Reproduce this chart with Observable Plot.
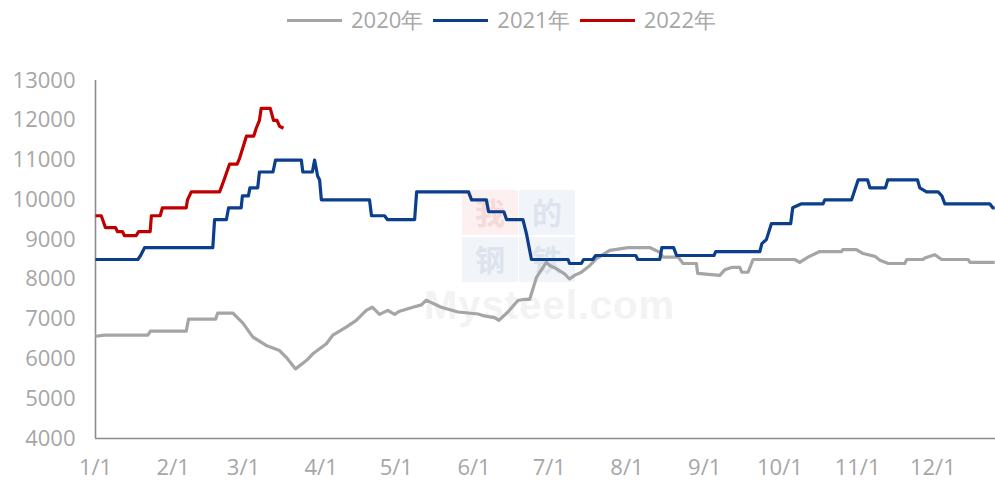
<!DOCTYPE html>
<html>
<head>
<meta charset="utf-8">
<script src="https://cdn.jsdelivr.net/npm/d3@7"></script>
<script src="https://cdn.jsdelivr.net/npm/@observablehq/plot@0.6"></script>
<style>
  html, body { margin: 0; padding: 0; background: #fff; }
  #wrap { position: relative; width: 995px; height: 489px; overflow: hidden; font-family: "Open Sans", "Liberation Sans", sans-serif; }
  #legend { position: relative; height: 40px; display: flex; align-items: center; padding-left: 287px; color: #A6A6A6; font-size: 22px; z-index: 2; }
  .item { display: flex; align-items: center; margin-right: 10px; }
  .sw { width: 55px; height: 3px; margin-right: 9px; }
  #chart { position: relative; z-index: 2; }
  #wm { position: absolute; left: 0; top: 0; width: 995px; height: 489px; z-index: 1; }
  .box { position: absolute; width: 56px; height: 45px; overflow: hidden; }
  .box span { position: absolute; left: 13px; top: 0px; font-family: "Noto Sans CJK SC", sans-serif; font-size: 30px; line-height: 43px; font-weight: bold; }
  #ms { position: absolute; left: 424px; top: 282px; font-family: "Liberation Sans", Arial, sans-serif; font-weight: bold; font-size: 40px; line-height: 46px; color: #F3F3F3; letter-spacing: 1px; }
</style>
</head>
<body>
<div id="wrap">
  <div id="wm">
    <div class="box" style="left:462px;top:190px;background:#FDF0F0;"><span style="color:#F6DADA;">我</span></div>
    <div class="box" style="left:519px;top:190px;background:#F1F4F9;"><span style="color:#DEE4EE;">的</span></div>
    <div class="box" style="left:462px;top:237px;background:#F1F4F9;"><span style="color:#DEE4EE;">钢</span></div>
    <div class="box" style="left:519px;top:237px;background:#F1F4F9;"><span style="color:#DEE4EE;">铁</span></div>
    <div id="ms">Mysteel.com</div>
  </div>
  <div id="legend"></div>
  <div id="chart"></div>
</div>
<script>
// ---- data (day of year, 0 = Jan 1) ----
const years = ["2020年", "2021年", "2022年"];
const colors = ["#A5A5A5", "#0B3E8C", "#C00000"];

const days2020 = [0, 3.6, 20.9, 21.9, 36.2, 37.1, 47.9, 48.7, 54.8, 58.8, 62.8, 68.1, 73.4, 76.1, 79.8, 84.1, 86.7, 92.1, 94.7, 100.0, 104.0, 108.0, 110.4, 113.3, 116.6, 119.3, 121.3, 126.6, 130.0, 131.9, 137.9, 144.6, 152.6, 154.5, 159.2, 160.9, 164.5, 168.5, 171.2, 173.2, 175.9, 179.8, 181.2, 183.8, 187.1, 189.1, 191.1, 193.8, 197.2, 199.8, 205.1, 212.4, 221.1, 225.1, 226.4, 232.4, 234.4, 239.7, 240.2, 249.0, 251.0, 253.7, 257.0, 257.8, 260.3, 262.3, 278.9, 280.9, 284.2, 288.9, 297.6, 298.1, 303.5, 306.2, 310.9, 312.9, 316.2, 322.8, 323.6, 330.1, 330.8, 334.8, 337.5, 348.1, 348.8, 358.7];
const vals2020 = [6570, 6600, 6600, 6700, 6700, 7000, 7000, 7150, 7150, 6900, 6550, 6340, 6210, 6040, 5750, 5960, 6130, 6380, 6600, 6800, 6970, 7220, 7300, 7120, 7220, 7120, 7200, 7300, 7360, 7480, 7300, 7180, 7130, 7090, 7040, 6970, 7180, 7470, 7500, 7500, 8050, 8430, 8350, 8270, 8140, 8010, 8100, 8180, 8350, 8520, 8730, 8800, 8800, 8680, 8560, 8560, 8400, 8400, 8150, 8100, 8240, 8300, 8300, 8180, 8180, 8500, 8500, 8430, 8560, 8700, 8700, 8750, 8750, 8650, 8580, 8480, 8400, 8400, 8500, 8500, 8540, 8620, 8500, 8500, 8430, 8430];

const days2021 = [0, 16.9, 18.0, 19.6, 46.8, 47.5, 52.2, 53.1, 58.1, 58.6, 61.0, 61.6, 64.7, 65.4, 70.8, 71.8, 82.1, 82.7, 86.5, 87.4, 88.6, 89.4, 90.1, 109.3, 110.1, 115.3, 116.5, 127.3, 128.1, 148.8, 150.0, 155.9, 156.8, 162.9, 164.0, 170.5, 171.9, 173.9, 188.5, 189.1, 193.8, 194.7, 198.4, 199.5, 215.5, 216.3, 225.1, 225.9, 230.6, 231.8, 246.7, 247.4, 265.0, 265.8, 267.6, 269.6, 277.3, 278.1, 281.6, 290.2, 290.9, 301.6, 304.2, 308.0, 308.9, 315.1, 316.0, 327.9, 328.8, 331.5, 336.1, 337.6, 338.8, 356.7, 357.9, 358.7];
const vals2021 = [8500, 8500, 8600, 8800, 8800, 9500, 9500, 9800, 9800, 10100, 10100, 10300, 10300, 10700, 10700, 11000, 11000, 10700, 10700, 11000, 10600, 10500, 10000, 10000, 9600, 9600, 9500, 9500, 10200, 10200, 10000, 10000, 9700, 9700, 9500, 9500, 9150, 8500, 8500, 8400, 8400, 8500, 8500, 8600, 8600, 8500, 8500, 8800, 8800, 8600, 8600, 8700, 8700, 8900, 9000, 9400, 9400, 9800, 9900, 9900, 10000, 10000, 10500, 10500, 10300, 10300, 10500, 10500, 10300, 10200, 10200, 10100, 9900, 9900, 9800, 9800];

const days2022 = [0, 2.3, 4.0, 8.0, 8.8, 10.8, 11.5, 16.2, 17.2, 21.8, 22.3, 25.8, 26.7, 36.2, 36.7, 38.2, 49.5, 50.7, 53.5, 56.5, 57.5, 60.2, 63.1, 64.1, 65.4, 66.1, 69.7, 71.0, 72.4, 73.4, 75.0];
const vals2022 = [9600, 9600, 9300, 9300, 9200, 9200, 9100, 9100, 9200, 9200, 9600, 9600, 9800, 9800, 10000, 10200, 10200, 10400, 10900, 10900, 11050, 11600, 11600, 11800, 12000, 12300, 12300, 12000, 12000, 11850, 11800];

const tickDays = [0, 31, 59, 90, 120, 151, 181, 212, 243, 273, 304, 334];
const tickLabels = ["1/1", "2/1", "3/1", "4/1", "5/1", "6/1", "7/1", "8/1", "9/1", "10/1", "11/1", "12/1"];
const yTicks = [4000, 5000, 6000, 7000, 8000, 9000, 10000, 11000, 12000, 13000];

// ---- build rows ----
const seriesDays = [days2020, days2021, days2022];
const seriesVals = [vals2020, vals2021, vals2022];
const rows = [];
years.forEach((yr, k) => {
  seriesDays[k].forEach((d, i) => rows.push({year: yr, day: d, value: seriesVals[k][i]}));
});
const labelOf = new Map(tickDays.map((d, i) => [d, tickLabels[i]]));

// ---- legend ----
const legend = document.getElementById("legend");
years.forEach((yr, k) => {
  const it = document.createElement("div");
  it.className = "item";
  it.innerHTML = `<span class="sw" style="background:${colors[k]}"></span><span>${yr}</span>`;
  legend.appendChild(it);
});

// ---- chart ----
const chart = Plot.plot({
  width: 995,
  height: 449,
  marginLeft: 95,
  marginRight: 0,
  marginTop: 40,
  marginBottom: 51,
  style: {fontFamily: "'Open Sans', 'Liberation Sans', sans-serif", fontSize: "22px", background: "transparent", overflow: "visible"},
  x: {domain: [0, 359]},
  y: {domain: [4000, 13000]},
  color: {domain: years, range: colors},
  marks: [
    Plot.axisY(yTicks, {tickSize: 0, tickPadding: 20, fill: "#A6A6A6", label: null, tickFormat: d => String(d)}),
    Plot.axisX(tickDays, {tickSize: 0, tickPadding: 21, fill: "#A6A6A6", label: null, tickFormat: d => labelOf.get(d)}),
    Plot.ruleY([4000], {stroke: "#8C8C8C", strokeWidth: 1.6}),
    Plot.ruleX([0], {stroke: "#8C8C8C", strokeWidth: 1.6}),
    Plot.line(rows, {x: "day", y: "value", z: "year", stroke: "year", strokeWidth: 3.2, strokeLinejoin: "round", strokeLinecap: "butt"})
  ]
});
document.getElementById("chart").appendChild(chart);
</script>
</body>
</html>
